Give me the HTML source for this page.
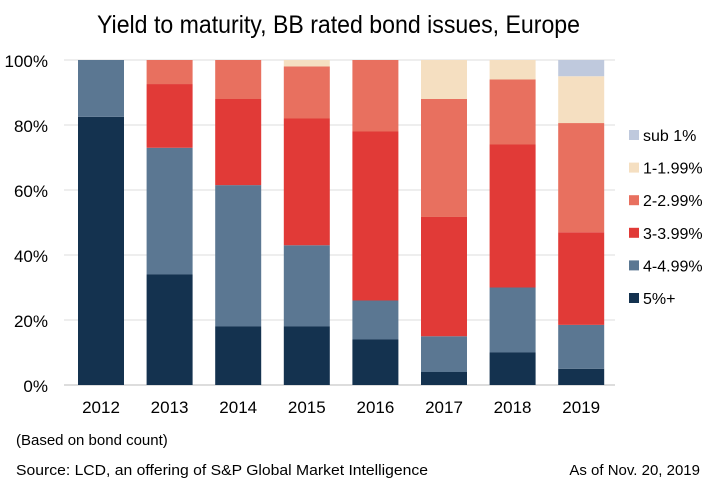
<!DOCTYPE html>
<html><head><meta charset="utf-8"><style>
body{margin:0;background:#fff;font-family:"Liberation Sans",sans-serif;}
svg text{font-family:"Liberation Sans",sans-serif;fill:#000;}
</style></head><body>
<svg width="716" height="489">
<text x="97" y="33" font-size="25" textLength="483" lengthAdjust="spacingAndGlyphs">Yield to maturity, BB rated bond issues, Europe</text>
<g id="grid"></g><g id="bars"></g><g id="legend"></g>
<text x="16" y="445" font-size="15">(Based on bond count)</text>
<text x="16" y="475" font-size="15" textLength="412" lengthAdjust="spacingAndGlyphs">Source: LCD, an offering of S&amp;P Global Market Intelligence</text>
<text x="700" y="475" font-size="15" text-anchor="end">As of Nov. 20, 2019</text>
</svg>
<script>
const years=["2012","2013","2014","2015","2016","2017","2018","2019"];
const seriesNames=["5%+","4-4.99%","3-3.99%","2-2.99%","1-1.99%","sub 1%"];
const s5=[82.5,34,18,18,14,4,10,5];
const s4=[17.5,39,43.5,25,12,11,20,13.5];
const s3=[0,19.6,26.5,39,52,36.7,44,28.5];
const s2=[0,7.4,12,16,22,36.3,20,33.6];
const s1=[0,0,0,2,0,12,6,14.4];
const s0=[0,0,0,0,0,0,0,5];
const yTicks=[0,20,40,60,80,100];
const colors=["#14324f","#5b7792","#e13a37","#e8705f","#f5dfc1","#bfc9dd"];
const series=[s5,s4,s3,s2,s1,s0];
const NS="http://www.w3.org/2000/svg";
const y0=385,y100=60,xl=64,xr=615;
const yS=v=>y0-(y0-y100)*v/100;
const xS=i=>101+i*68.6;
const bw=46;
function mk(t,a,p){const e=document.createElementNS(NS,t);for(const k in a)e.setAttribute(k,a[k]);p.appendChild(e);return e;}
const g=document.getElementById('grid');
yTicks.forEach(t=>{
 const l=mk('line',{x1:xl,x2:xr,y1:yS(t),y2:yS(t),stroke:t===0?'#bbb':'#ddd','stroke-width':1},g);
 
 
 const tx=mk('text',{x:48,y:yS(t)+7,'font-size':17,'text-anchor':'end'},g);tx.textContent=t+'%';
 
 
});
const b=document.getElementById('bars');
years.forEach((yr,i)=>{
 let cum=0;
 series.forEach((s,k)=>{
  const v=s[i];if(v<=0)return;
  const r=mk('rect',{x:xS(i)-bw/2,y:yS(cum+v),width:bw,height:yS(cum)-yS(cum+v),fill:colors[k]},b);
  
  
  cum+=v;
 });
 const tx=mk('text',{x:xS(i),y:413,'font-size':17,'text-anchor':'middle'},b);tx.textContent=yr;
 
 
});
const lg=document.getElementById('legend');
for(let k=5;k>=0;k--){
 const yy=135+(5-k)*32.6;
 const r=mk('rect',{x:629,y:yy-5,width:10,height:10,fill:colors[k]},lg);
 
 
 const t=mk('text',{x:643,y:yy+6,'font-size':16},lg);t.textContent=seriesNames[k];
 
 
}
</script>
</body></html>
